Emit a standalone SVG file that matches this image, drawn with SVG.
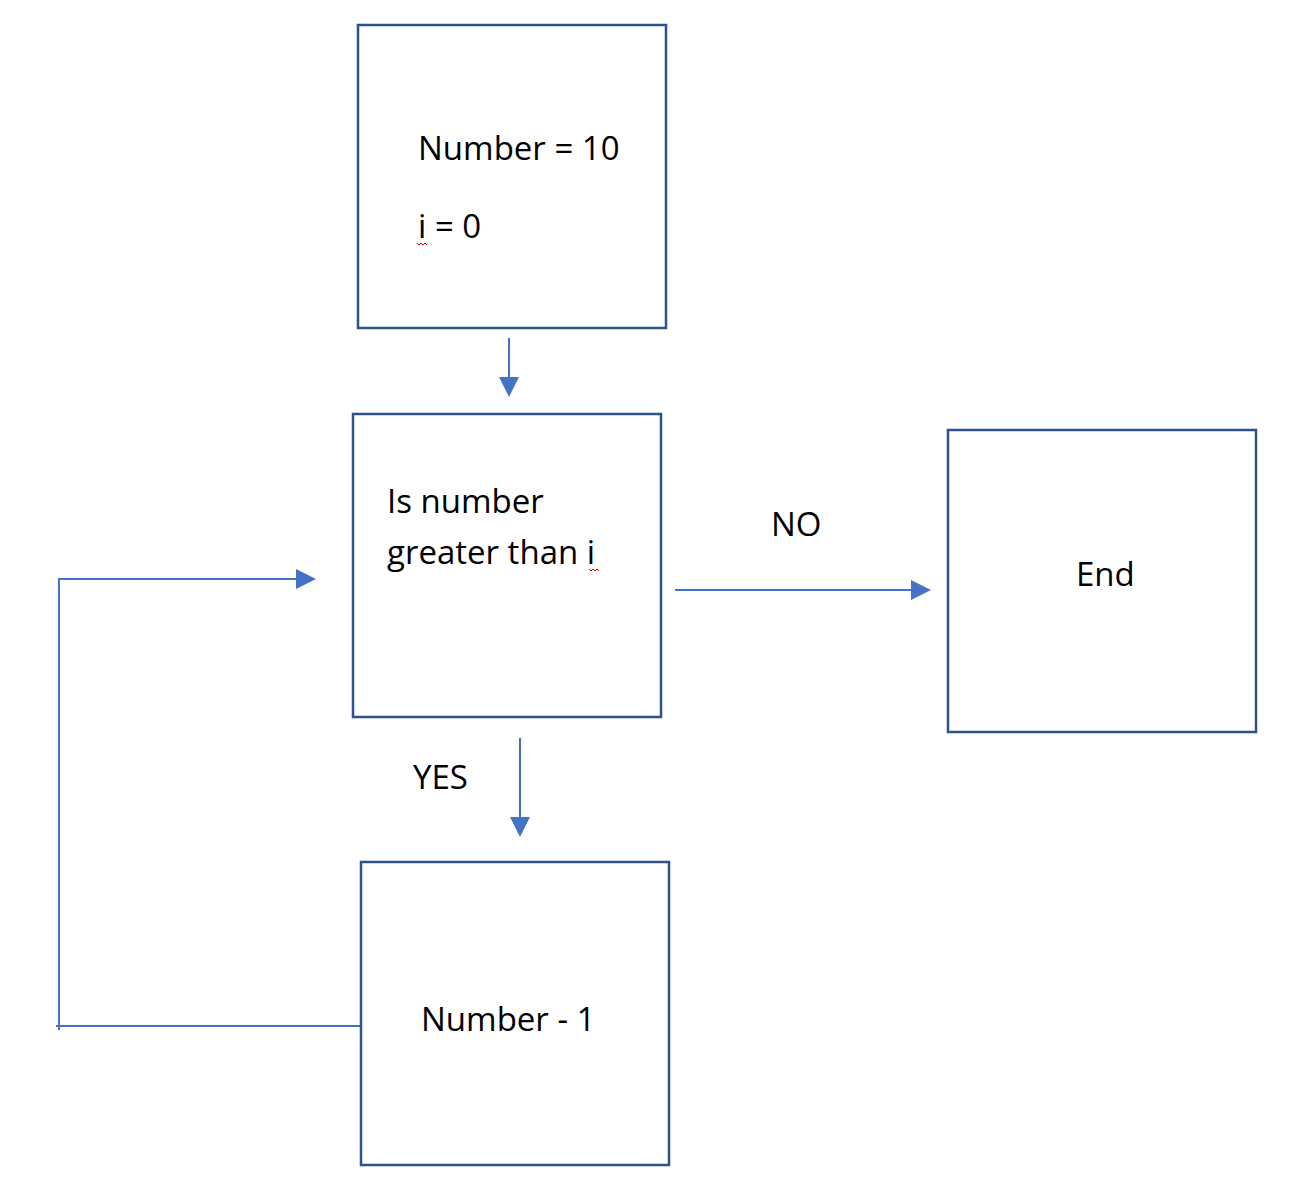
<svg xmlns="http://www.w3.org/2000/svg" width="1313" height="1196" viewBox="0 0 1313 1196">
<style>
.box{fill:#fff;stroke:#2F528F;stroke-width:2.5}
.ln{fill:none;stroke:#4472C4;stroke-width:2}
.t{font-family:"Open Sans","Liberation Sans",sans-serif;font-size:33px;fill:#000}
.sq{fill:none;stroke:#E00000;stroke-width:1}
.ah{fill:#4472C4}
</style>
<rect width="1313" height="1196" fill="#fff"/>
<g id="connectors">
<line class="ln" x1="509" y1="338" x2="509" y2="380"/>
<line class="ln" x1="675" y1="590" x2="914" y2="590"/>
<line class="ln" x1="520" y1="738" x2="520" y2="820"/>
<polyline class="ln" points="361,1026 56,1026"/>
<polyline class="ln" points="59,1030 59,579 300,579"/>
<path class="ah" d="M499,377 L519,377 L509,397 Z"/>
<path class="ah" d="M911,580 L931,590 L911,600 Z"/>
<path class="ah" d="M510,817 L530,817 L520,837 Z"/>
<path class="ah" d="M296,569 L316,579 L296,589 Z"/>
</g>
<g id="node-start">
<rect class="box" x="358" y="25" width="308" height="303"/>
<text class="t" x="418" y="160">Number = 10</text>
<text class="t" x="418" y="238">i = 0</text>
<path class="sq" d="M417,243 l2,2 l2,-2 l2,2 l2,-2 l2,2"/>
</g>
<g id="node-decision">
<rect class="box" x="353" y="414" width="308" height="303"/>
<text class="t" x="387" y="513">Is number</text>
<text class="t" x="387" y="564">greater than i</text>
<path class="sq" d="M589,569 l2,2 l2,-2 l2,2 l2,-2 l2,2"/>
</g>
<g id="node-end">
<rect class="box" x="948" y="430" width="308" height="302"/>
<text class="t" x="1076" y="586">End</text>
</g>
<g id="node-decrement">
<rect class="box" x="361" y="862" width="308" height="303"/>
<text class="t" x="421" y="1031">Number - 1</text>
</g>
<g id="labels">
<text class="t" x="771" y="536">NO</text>
<text class="t" x="413" y="789">YES</text>
</g>
</svg>
